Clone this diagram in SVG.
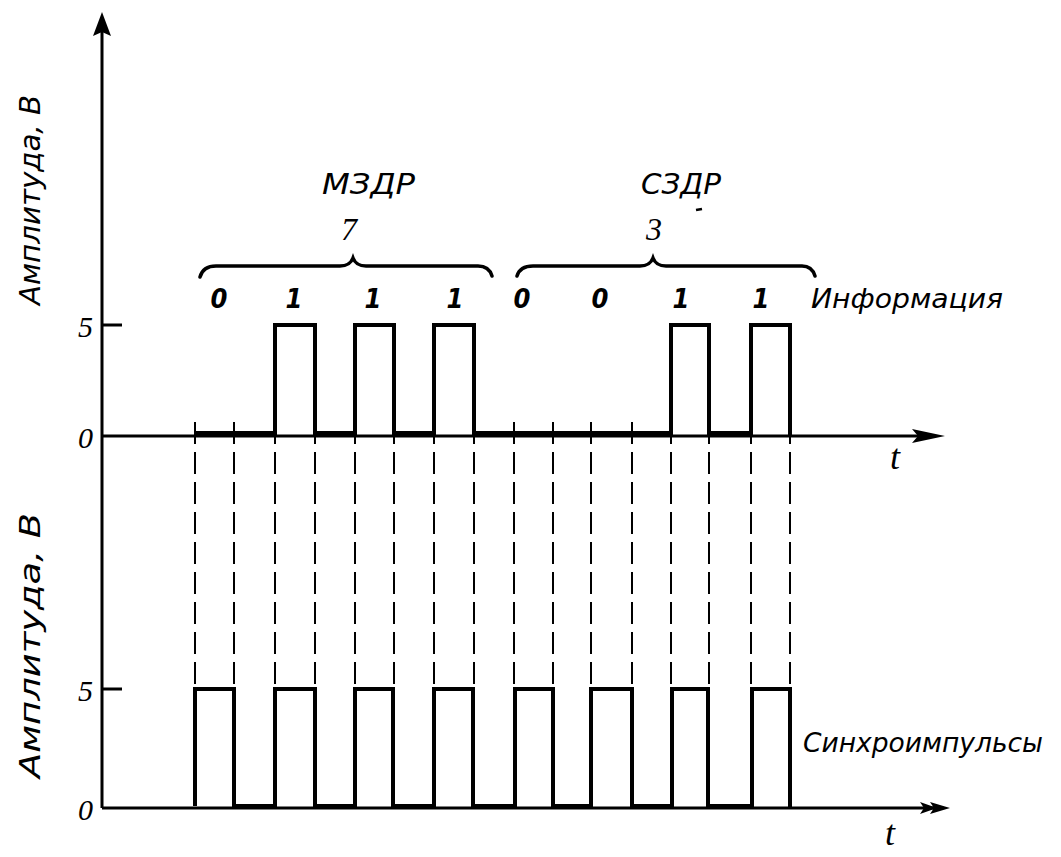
<svg xmlns="http://www.w3.org/2000/svg" width="1061" height="857" viewBox="0 0 1061 857">
<style>
.ax{stroke:#000;stroke-width:3;fill:none}
.wave{stroke:#000;stroke-width:4;fill:none;stroke-linejoin:miter}
.dash{stroke:#000;stroke-width:2;fill:none;stroke-dasharray:22 8}
.brace{stroke:#000;stroke-width:3.5;fill:none;stroke-linecap:round}
.lbl{font-family:"DejaVu Sans Condensed","DejaVu Sans",sans-serif;font-style:italic;fill:#000}
.num{font-family:"Liberation Serif",serif;font-style:italic;fill:#000}
.bit{font-family:"DejaVu Sans Condensed","DejaVu Sans",sans-serif;font-style:italic;font-weight:bold;font-size:27px;fill:#000;text-anchor:middle}
</style>
<rect width="1061" height="857" fill="#fff"/>
<g id="axes">
<line class="ax" x1="102" y1="30" x2="102" y2="808"/>
<path d="M102,12 L111,36 L102,32 L93,36 Z" fill="#000"/>
<line class="ax" x1="102" y1="436" x2="930" y2="436"/>
<path d="M945,436 L912,429 L918,436 L912,443 Z" fill="#000"/>
<line class="ax" x1="102" y1="325" x2="122" y2="325"/>
<line class="ax" x1="102" y1="808" x2="935" y2="808"/>
<path d="M950,808 L930,802 L934,808 L930,814 Z M937,808 L920,802 L924,808 L920,814 Z" fill="#000"/>
<line class="ax" x1="102" y1="689" x2="122" y2="689"/>
</g>
<g id="axis-labels">
<text class="lbl" font-size="28" transform="translate(40,305) rotate(-90)" textLength="210" lengthAdjust="spacingAndGlyphs">Амплитуда, В</text>
<text class="lbl" font-size="28" transform="translate(40,778) rotate(-90)" textLength="265" lengthAdjust="spacingAndGlyphs">Амплитуда, В</text>
<text class="num" font-size="30" x="78" y="337">5</text>
<text class="num" font-size="30" x="78" y="448">0</text>
<text class="num" font-size="30" x="78" y="701">5</text>
<text class="num" font-size="30" x="78" y="820">0</text>
<text class="num" font-size="36" x="890" y="469">t</text>
<text class="num" font-size="36" x="885" y="845">t</text>
</g>
<g id="connectors">
<g class="dash">
<line x1="195" y1="422" x2="195" y2="689"/>
<line x1="234" y1="422" x2="234" y2="689"/>
<line x1="275" y1="422" x2="275" y2="689"/>
<line x1="315" y1="422" x2="315" y2="689"/>
<line x1="355" y1="422" x2="355" y2="689"/>
<line x1="394" y1="422" x2="394" y2="689"/>
<line x1="434" y1="422" x2="434" y2="689"/>
<line x1="474" y1="422" x2="474" y2="689"/>
<line x1="514" y1="422" x2="514" y2="689"/>
<line x1="553" y1="422" x2="553" y2="689"/>
<line x1="591" y1="422" x2="591" y2="689"/>
<line x1="632" y1="422" x2="632" y2="689"/>
<line x1="671" y1="422" x2="671" y2="689"/>
<line x1="709" y1="422" x2="709" y2="689"/>
<line x1="751" y1="422" x2="751" y2="689"/>
<line x1="790" y1="422" x2="790" y2="689"/>
</g>
</g>
<g id="info-wave">
<path class="wave" d="M195,433 H275 V325 H315 V433 H355 V325 H394 V433 H434 V325 H474 V433 H671 V325 H709 V433 H751 V325 H790 V436"/>
</g>
<g id="sync-wave">
<path class="wave" d="M195,806 V689 H234 V806 H275 V689 H315 V806 H355 V689 H393 V806 H434 V689 H473 V806 H515 V689 H553 V806 H591 V689 H632 V806 H672 V689 H708 V806 H752 V689 H790 V808"/>
</g>
<g id="braces">
<path class="brace" d="M200,277 Q203,266 216,266 H340 Q350,266 353,258 Q356,266 366,266 H478 Q489,266 492,276"/>
<path class="brace" d="M517,276 Q520,266 533,266 H640 Q650,266 653,258 Q656,266 666,266 H802 Q812,266 815,276"/>
</g>
<g id="top-labels">
<text class="lbl" font-size="28" x="322" y="194" textLength="93" lengthAdjust="spacingAndGlyphs">МЗДР</text>
<text class="num" font-size="32" x="341" y="240">7</text>
<text class="lbl" font-size="28" x="641" y="194" textLength="80" lengthAdjust="spacingAndGlyphs">СЗДР</text>
<line x1="696" y1="210" x2="702" y2="209" stroke="#000" stroke-width="2.5"/>
<text class="num" font-size="32" x="646" y="240">3</text>
</g>
<g id="bits">
<text class="bit" x="219" y="308">0</text>
<text class="bit" x="294" y="308">1</text>
<text class="bit" x="373" y="308">1</text>
<text class="bit" x="455" y="308">1</text>
<text class="bit" x="522" y="308">0</text>
<text class="bit" x="600" y="308">0</text>
<text class="bit" x="681" y="308">1</text>
<text class="bit" x="761" y="308">1</text>
<text class="lbl" font-size="26" x="811" y="308" textLength="192" lengthAdjust="spacingAndGlyphs">Информация</text>
</g>
<g id="sync-label">
<text class="lbl" font-size="26" x="803" y="752" textLength="240" lengthAdjust="spacingAndGlyphs">Синхроимпульсы</text>
</g>
</svg>
